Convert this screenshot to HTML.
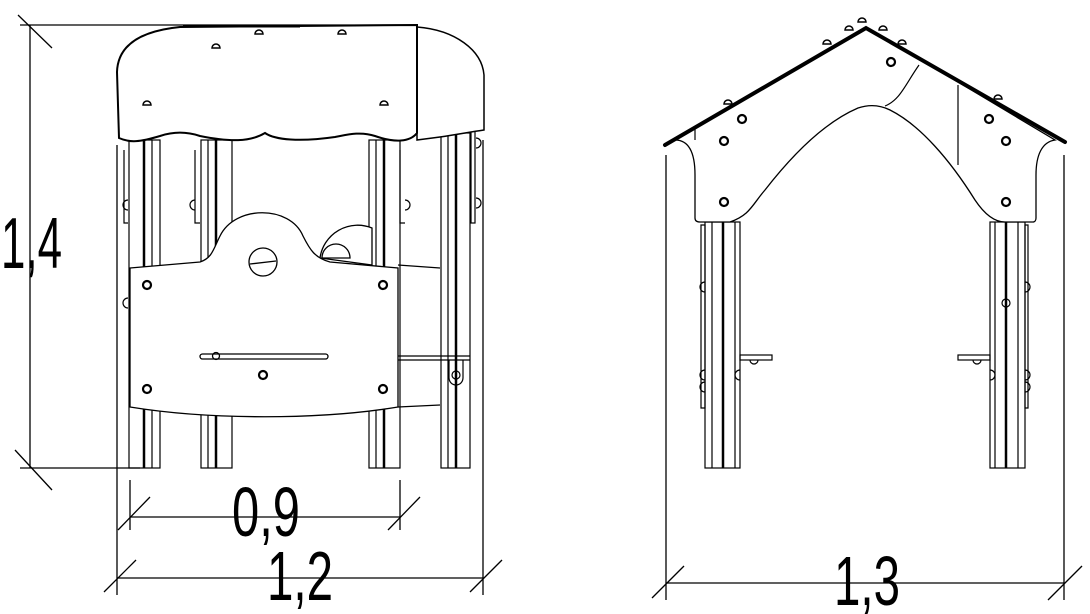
<!DOCTYPE html>
<html><head><meta charset="utf-8"><style>
html,body{margin:0;padding:0;background:#fff;width:1090px;height:614px;overflow:hidden}
svg{display:block}
text{font-family:"Liberation Sans",sans-serif;fill:#000}
</style></head><body>
<svg width="1090" height="614" viewBox="0 0 1090 614" xmlns="http://www.w3.org/2000/svg" fill="none" stroke="#000" stroke-width="1.3">
<!-- LEFT VIEW dimension lines -->
<line x1="20" y1="25" x2="417" y2="25"/>
<line x1="30" y1="25" x2="30" y2="468"/>
<line x1="18" y1="15" x2="52" y2="48"/>
<line x1="15" y1="450" x2="52" y2="490"/>
<line x1="20" y1="468" x2="140" y2="468"/>
<text x="1" y="268" font-size="72" stroke="none" textLength="61" lengthAdjust="spacingAndGlyphs">1,4</text>
<line x1="130" y1="480" x2="130" y2="530"/>
<line x1="400" y1="480" x2="400" y2="530"/>
<line x1="130" y1="517" x2="400" y2="517"/>
<line x1="118" y1="530" x2="150" y2="497"/>
<line x1="388" y1="530" x2="420" y2="497"/>
<text x="232" y="536" font-size="70" stroke="none" textLength="68" lengthAdjust="spacingAndGlyphs">0,9</text>
<line x1="117" y1="145" x2="117" y2="595"/>
<line x1="483" y1="140" x2="483" y2="595"/>
<line x1="117" y1="578" x2="483" y2="578"/>
<line x1="104" y1="592" x2="136" y2="560"/>
<line x1="470" y1="592" x2="502" y2="560"/>
<text x="267" y="600" font-size="70" stroke="none" textLength="66" lengthAdjust="spacingAndGlyphs">1,2</text>
<!-- posts left view -->
<g stroke-width="1.2">
<rect x="129" y="140" width="31" height="328"/><line x1="144" y1="140" x2="144" y2="468" stroke-width="2.5"/><line x1="152" y1="140" x2="152" y2="468"/>
<rect x="201" y="140" width="31" height="328"/><line x1="216" y1="140" x2="216" y2="468" stroke-width="2.5"/><line x1="208" y1="140" x2="208" y2="468"/>
<rect x="369" y="140" width="31" height="328"/><line x1="384" y1="140" x2="384" y2="468" stroke-width="2.5"/><line x1="376" y1="140" x2="376" y2="468"/>
<rect x="441" y="133" width="29" height="335"/><line x1="456" y1="133" x2="456" y2="468" stroke-width="2.5"/><line x1="448" y1="133" x2="448" y2="468"/>
<rect x="471" y="88" width="4" height="135"/>
<path d="M450 103h20M450 110h20" /><ellipse cx="452" cy="107" rx="5" ry="3"/>
<path d="M124 150v73h4M195 150v73h5M400 150v73h5"/>
<path d="M128 200a5 5 0 0 0 0 10M195 200a5 5 0 0 0 0 10M405 200a5 5 0 0 1 0 10M128 298a5 5 0 0 0 0 10M476 113a5 5 0 0 1 0 10M476 138a5 5 0 0 1 0 10M476 198a5 5 0 0 1 0 10"/>
<path d="M398 265 L440 268 M398 407 L440 405 M398 356 L470 356 M398 360 L470 360"/>
<path d="M449 360 v18 a7 7 0 0 0 14 0 v-18"/><circle cx="456" cy="375" r="4"/>
</g>
<!-- back panel bumps -->
<g fill="#fff" stroke-width="1.3">
<path d="M320 258 A38 38 0 0 1 372 228 L372 265 Z"/>
<path d="M322 258 A14 14 0 0 1 350 258 Z"/>
</g>
<!-- front panel -->
<path fill="#fff" d="M130 268 L200 262 C212 258 213 250 220 236 C235 205 290 205 303 236 C310 250 315 258 330 262 L398 268 L398 407 C320 420 210 420 130 407 Z"/>
<circle cx="263" cy="262" r="14" fill="#fff"/><line x1="250" y1="264" x2="276" y2="261"/>
<g stroke-width="2.2"><circle cx="147" cy="285" r="4"/><circle cx="383" cy="285" r="4"/><circle cx="147" cy="389" r="4"/><circle cx="383" cy="389" r="4"/><circle cx="263" cy="375" r="4"/></g>
<rect x="200" y="354" width="128" height="5" rx="2.5"/><circle cx="216" cy="356" r="3.5"/>
<!-- roof left view -->
<path fill="#fff" stroke-width="1.5" d="M417 27 C455 30 482 50 484 75 L484 130 C470 132 460 134 440 137 L417 140 Z"/>
<path fill="#fff" stroke-width="2" d="M117 72 C118 40 150 30 180 27 L417 25 L417 133 C410 142 395 143 375 136 C360 131 346 135 335 137 C300 142 275 140 265 133 C250 142 230 142 200 136 C185 131 172 132 160 136 C140 142 130 143 119 138 Z"/>
<path stroke-width="3" d="M183 26 L300 26"/>
<g stroke-width="1.5"><path d="M143 105a4 4 0 0 1 8 0zM212 48a4 4 0 0 1 8 0zM255 34a4 4 0 0 1 8 0zM338 34a4 4 0 0 1 8 0zM380 105a4 4 0 0 1 8 0z"/></g>
<!-- RIGHT VIEW -->
<line x1="666" y1="155" x2="666" y2="600"/>
<line x1="1064" y1="155" x2="1064" y2="600"/>
<line x1="666" y1="583" x2="1064" y2="583"/>
<line x1="652" y1="598" x2="684" y2="566"/>
<line x1="1048" y1="600" x2="1082" y2="566"/>
<text x="834" y="605" font-size="70" stroke="none" textLength="66" lengthAdjust="spacingAndGlyphs">1,3</text>
<g stroke-width="1.2">
<rect x="705" y="222" width="35" height="246"/><line x1="723" y1="222" x2="723" y2="468" stroke-width="2.5"/><line x1="712" y1="222" x2="712" y2="468"/><line x1="735" y1="222" x2="735" y2="468"/>
<path d="M705 225v183h-4v-183z"/>
<rect x="990" y="222" width="35" height="246"/><line x1="1006" y1="222" x2="1006" y2="468" stroke-width="2.5"/><line x1="995" y1="222" x2="995" y2="468"/><line x1="1018" y1="222" x2="1018" y2="468"/>
<path d="M1025 225v183h3v-183z"/>
<rect x="740" y="355" width="32" height="5"/><rect x="958" y="355" width="32" height="5"/>
<path d="M750 360a4 4 0 0 0 8 0M973 360a4 4 0 0 0 8 0M705 282a5 5 0 0 0 0 10M705 370a5 5 0 0 0 0 10M705 382a5 5 0 0 0 0 10M740 370a5 5 0 0 0 0 10M990 370a5 5 0 0 1 0 10M1025 282a5 5 0 0 1 0 10M1025 370a5 5 0 0 1 0 10M1025 382a5 5 0 0 1 0 10"/>
<circle cx="1006" cy="303" r="4"/>
</g>
<path fill="#fff" stroke-width="1.3" d="M675 140 C690 140 695 155 695 175 L695 218 C695 221 697 222 700 222 L730 222 C750 215 752 205 765 190 C800 145 830 120 858 108 C870 104 880 105 890 110 C920 125 950 160 975 200 C985 215 995 222 1005 222 L1033 222 C1035 222 1036 220 1036 218 L1036 175 C1036 155 1042 142 1055 140 L866 27 Z"/>
<path stroke-width="1.2" d="M695 128 L695 140 M958 85 L958 165 M919 65 C905 85 900 100 885 106"/>
<g stroke-width="2.2"><circle cx="742" cy="119" r="4"/><circle cx="724" cy="141" r="4"/><circle cx="724" cy="202" r="4"/><circle cx="891" cy="62" r="4"/><circle cx="989" cy="119" r="4"/><circle cx="1006" cy="141" r="4"/><circle cx="1006" cy="202" r="4"/></g>
<g stroke-width="1.5"><path d="M724 104a4 4 0 0 1 8 0zM823 44a4 4 0 0 1 8 0zM845 30a4 4 0 0 1 8 0zM858 22a4 4 0 0 1 8 0zM879 30a4 4 0 0 1 8 0zM898 44a4 4 0 0 1 8 0zM994 99a4 4 0 0 1 8 0z"/></g>
<path stroke-width="4" stroke-linecap="round" d="M665 145 L866 28 L1065 142"/>
</svg>
</body></html>
